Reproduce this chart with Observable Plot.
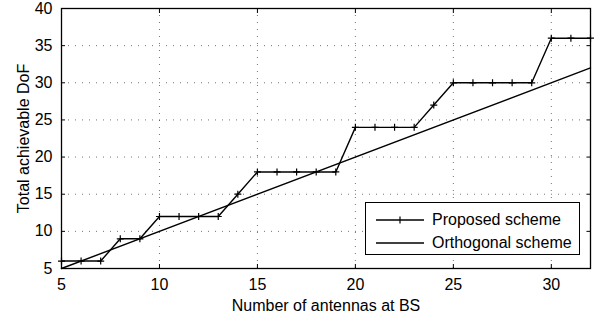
<!DOCTYPE html>
<html>
<head>
<meta charset="utf-8">
<script src="https://cdn.jsdelivr.net/npm/d3@7"></script>
<script src="https://cdn.jsdelivr.net/npm/@observablehq/plot@0.6"></script>
<style>
  html, body { margin: 0; padding: 0; background: #fff; }
  #wrap { position: relative; width: 600px; height: 312px; font-family: "Liberation Sans", Arial, Helvetica, sans-serif; }
  #legend { position: absolute; left: 365px; top: 202px; width: 213px; height: 51px; border: 1px solid #000; background: #fff; font-size: 16px; }
  #legend .row { position: absolute; left: 0; height: 20px; width: 100%; }
  #legend svg { position: absolute; left: 9px; top: 0; }
  #legend span { position: absolute; left: 66px; top: 0; line-height: 20px; white-space: nowrap; }
</style>
</head>
<body>
<div id="wrap"></div>
<script>
// Data
const antennas = [5,6,7,8,9,10,11,12,13,14,15,16,17,18,19,20,21,22,23,24,25,26,27,28,29,30,31,32];
const proposedDoF = [6,6,6,9,9,12,12,12,12,15,18,18,18,18,18,24,24,24,24,27,30,30,30,30,30,36,36,36];
const orthogonalX = [5, 32];
const orthogonalDoF = [5, 32];
const xTicks = [5, 10, 15, 20, 25, 30];
const yTicks = [5, 10, 15, 20, 25, 30, 35, 40];
const seriesNames = ["Proposed scheme", "Orthogonal scheme"];
const xLabel = "Number of antennas at BS";
const yLabel = "Total achievable DoF";

const proposed = antennas.map((x, i) => ({x, y: proposedDoF[i]}));
const orthogonal = orthogonalX.map((x, i) => ({x, y: orthogonalDoF[i]}));

const plusSymbol = {
  draw(context, size) {
    const r = Math.sqrt(size / Math.PI);
    context.moveTo(-r, 0); context.lineTo(r, 0);
    context.moveTo(0, -r); context.lineTo(0, r);
  }
};

const font = "\"Liberation Sans\", Arial, Helvetica, sans-serif";
const gridStyle = {stroke: "#000", strokeOpacity: 0.55, strokeDasharray: "1,6", strokeWidth: 1};

const chart = Plot.plot({
  width: 600,
  height: 312,
  marginLeft: 61,
  marginRight: 10,
  marginTop: 8,
  marginBottom: 44,
  style: {fontFamily: font, fontSize: "16px", background: "#fff", color: "#000"},
  x: {domain: [5, 32]},
  y: {domain: [5, 40]},
  marks: [
    Plot.gridX(xTicks, gridStyle),
    Plot.gridY(yTicks, gridStyle),
    Plot.axisX(xTicks, {tickSize: 0, tickPadding: 10, fontSize: 16, label: xLabel, labelAnchor: "center", labelArrow: "none", labelOffset: 42}),
    Plot.axisY(yTicks, {tickSize: 0, tickPadding: 9, fontSize: 16, label: yLabel, labelAnchor: "center", labelArrow: "none", labelOffset: 44}),
    Plot.axisX(xTicks, {anchor: "bottom", tickSize: -4, tickFormat: () => "", label: null}),
    Plot.axisX(xTicks, {anchor: "top", tickSize: -4, tickFormat: () => "", label: null}),
    Plot.axisY(yTicks, {anchor: "left", tickSize: -4, tickFormat: () => "", label: null}),
    Plot.axisY(yTicks, {anchor: "right", tickSize: -4, tickFormat: () => "", label: null}),
    Plot.line(orthogonal, {x: "x", y: "y", stroke: "#000", strokeWidth: 1.4}),
    Plot.line(proposed, {x: "x", y: "y", stroke: "#000", strokeWidth: 1.4}),
    Plot.dot(proposed, {x: "x", y: "y", symbol: plusSymbol, r: 3.5, stroke: "#000", strokeWidth: 1.2, fill: "none"}),
    Plot.frame({stroke: "#000", strokeWidth: 1.3})
  ]
});

const wrap = document.getElementById("wrap");
wrap.appendChild(chart);

// Legend (HTML overlay)
const legend = document.createElement("div");
legend.id = "legend";
seriesNames.forEach((name, i) => {
  const row = document.createElement("div");
  row.className = "row";
  row.style.top = (7 + i * 23) + "px";
  const withMarker = i === 0;
  row.innerHTML = `<svg width="50" height="20"><line x1="1" y1="10" x2="49" y2="10" stroke="#000" stroke-width="1.3"/>${withMarker ? '<line x1="25" y1="6.5" x2="25" y2="13.5" stroke="#000" stroke-width="1.2"/>' : ''}</svg><span>${name}</span>`;
  legend.appendChild(row);
});
wrap.appendChild(legend);
</script>
</body>
</html>
